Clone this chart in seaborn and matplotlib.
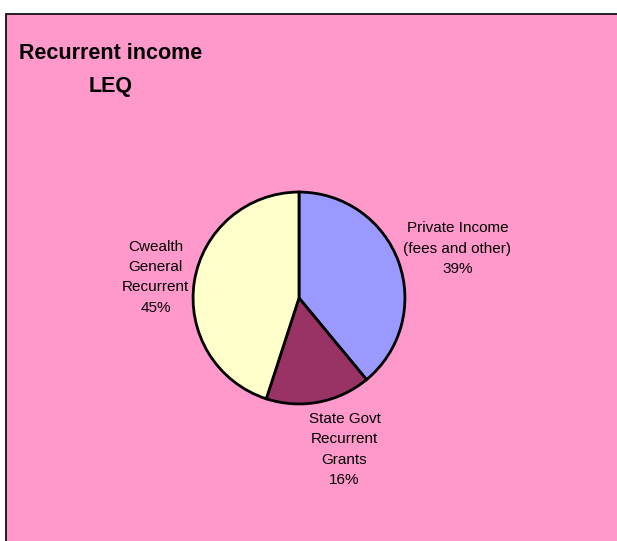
import numpy as np
import seaborn as sns
import matplotlib
matplotlib.use('Agg')
import matplotlib.pyplot as plt
from matplotlib.patches import Rectangle

# data
labels = ['Private Income\n(fees and other)', 'State Govt\nRecurrent\nGrants', 'Cwealth\nGeneral\nRecurrent']
values = [39, 16, 45]
colors = ['#9999FF', '#993366', '#FFFFCC']
# label centres (pie radius units)
label_pos = [(1.495, 0.465), (0.43, -1.43), (-1.355, 0.196)]

sns.set_style('white')
plt.rcParams['font.family'] = ['Liberation Sans', 'DejaVu Sans']
plt.rcParams['text.color'] = 'black'

fig = plt.figure(figsize=(6.17, 5.41), dpi=100)
fig.patch.set_facecolor('white')

# pink chart area with border
fig.patches.append(Rectangle((6/617, -0.01), 1.0, (541-14)/541 + 0.01,
                             transform=fig.transFigure, facecolor='#FF99CC',
                             edgecolor='black', linewidth=1.2, zorder=-5))

fig.text(111/617, 1 - 43/541, 'Recurrent income\nLEQ', ha='center', va='top',
         fontsize=15.5, fontweight='bold', linespacing=1.77, color='black')

ax = fig.add_axes([(299-107)/617, (541-405)/541, 214/617, 214/541])
ax.patch.set_alpha(0)
ax.pie(values, colors=colors, startangle=90, counterclock=False,
       wedgeprops=dict(edgecolor='black', linewidth=2))
ax.set_xlim(-1.01, 1.01)
ax.set_ylim(-1.01, 1.01)
ax.set_aspect('equal')
ax.axis('off')

for lab, v, (x, y) in zip(labels, values, label_pos):
    ax.text(x, y, f'{lab}\n{v}%', ha='center', va='center', fontsize=11,
            linespacing=1.58, clip_on=False, color='black')

fig.savefig('out.png', dpi=100)
